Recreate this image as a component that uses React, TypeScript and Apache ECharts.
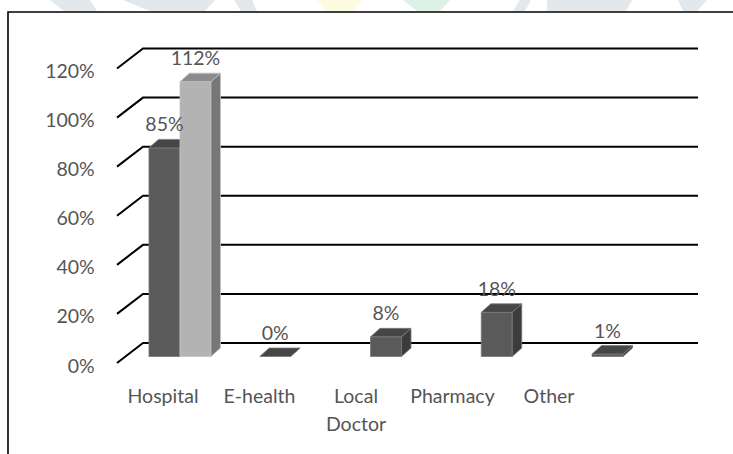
import React, { useEffect, useRef } from "react";
import * as echarts from "echarts";

const categories = ["Hospital", "E-health", "Local Doctor", "Pharmacy", "Other"];
const series1Values: (number | null)[] = [85, 0, 8, 18, 1];
const series2Values: (number | null)[] = [112, null, null, null, null];
const yTicks = [0, 20, 40, 60, 80, 100, 120];

const FONT = "Lato";
const TEXT_COLOR = "#555555";
const FONT_SIZE = 19.5;
const BAR_W = 31;

function barRenderer(side: number, colors: { front: string; top: string; side: string; edge: string }) {
  return (params: any, api: any) => {
    const idx = api.value(0);
    const val = api.value(1);
    const base = api.coord([idx, 0]);
    const topPt = api.coord([idx, val]);
    const cx = base[0];
    const y0 = base[1];
    const y1 = topPt[1];
    const w = BAR_W;
    const dx = 9.5;
    const dy = -8.5;
    const x0 = side < 0 ? cx - w : cx;
    const children: any[] = [];
    if (y0 - y1 > 0.5) {
      children.push({
        type: "rect",
        shape: { x: x0, y: y1, width: w, height: y0 - y1 },
        style: { fill: colors.front, stroke: colors.edge, lineWidth: 0.8 },
      });
      children.push({
        type: "polygon",
        shape: { points: [[x0 + w, y1], [x0 + w + dx, y1 + dy], [x0 + w + dx, y0 + dy], [x0 + w, y0]] },
        style: { fill: colors.side, stroke: colors.edge, lineWidth: 0.8 },
      });
    }
    children.push({
      type: "polygon",
      shape: { points: [[x0, y1], [x0 + w, y1], [x0 + w + dx, y1 + dy], [x0 + dx, y1 + dy]] },
      style: { fill: colors.top, stroke: colors.edge, lineWidth: 0.8 },
    });
    return { type: "group", children };
  };
}

function labelRenderer(side: number) {
  return (params: any, api: any) => {
    const idx = api.value(0);
    const val = api.value(1);
    const base = api.coord([idx, 0]);
    const topPt = api.coord([idx, val]);
    const x0 = side < 0 ? base[0] - BAR_W : base[0];
    return {
      type: "text",
      style: {
        text: val + "%",
        x: x0 + BAR_W / 2,
        y: topPt[1] - 24,
        align: "center",
        verticalAlign: "middle",
        fill: TEXT_COLOR,
        fontSize: FONT_SIZE,
        fontFamily: FONT,
      },
    };
  };
}

const toData = (arr: (number | null)[]) =>
  arr.map((v, i) => (v === null ? null : [i, v])).filter((d) => d !== null);

export default function App() {
  const ref = useRef<HTMLDivElement>(null);
  useEffect(() => {
    if (!ref.current) return;
    const chart = echarts.init(ref.current, null, { renderer: "svg" });
    const wm = "#e2e8eb";
    const option: any = {
      animation: false,
      backgroundColor: "#ffffff",
      graphic: [
        { type: "polygon", z: 0, shape: { points: [[50, 0], [90, 0], [97, 11], [64, 11]] }, style: { fill: wm } },
        { type: "polygon", z: 0, shape: { points: [[123, 0], [215, 0], [205, 11], [150, 11]] }, style: { fill: wm } },
        { type: "polygon", z: 0, shape: { points: [[234, 0], [252, 0], [257, 11], [241, 11]] }, style: { fill: wm } },
        { type: "polygon", z: 0, shape: { points: [[317, 0], [363, 0], [353, 11], [326, 11]] }, style: { fill: "#fdfbe2" } },
        { type: "polygon", z: 0, shape: { points: [[403, 0], [450, 0], [440, 11], [417, 11]] }, style: { fill: "#dcf2e6" } },
        { type: "polygon", z: 0, shape: { points: [[520, 0], [531, 0], [525, 11], [513, 11]] }, style: { fill: wm } },
        { type: "polygon", z: 0, shape: { points: [[547, 0], [632, 0], [626, 11], [547, 11]] }, style: { fill: wm } },
        { type: "polygon", z: 0, shape: { points: [[678, 0], [707, 0], [697, 11], [683, 11]] }, style: { fill: wm } },
        {
          type: "rect",
          z: 1,
          shape: { x: 8, y: 12, width: 800, height: 500 },
          style: { fill: null, stroke: "#000000", lineWidth: 1.6 },
        },
      ],
      grid: [
        { left: 124.6, right: 54.6, top: 62, bottom: 97.5 },
        { left: 114.75, right: 135.75, top: 70.5, bottom: 89 },
      ],
      xAxis: [
        { type: "category", data: categories, gridIndex: 0, show: false },
        {
          type: "category",
          data: categories,
          gridIndex: 1,
          axisLine: { show: false },
          axisTick: { show: false },
          splitLine: { show: false },
          axisLabel: {
            interval: 0,
            margin: 16,
            color: TEXT_COLOR,
            fontSize: FONT_SIZE,
            fontFamily: FONT,
            lineHeight: 28,
            formatter: (v: string) => v.replace(" ", "\n"),
          },
        },
      ],
      yAxis: [
        { type: "value", gridIndex: 0, min: 0, max: 120, interval: 20, show: false },
        {
          type: "value",
          gridIndex: 1,
          min: 0,
          max: 120,
          interval: 20,
          axisLine: { show: false },
          axisTick: { show: false },
          splitLine: { show: false },
          axisLabel: {
            margin: 20,
            color: TEXT_COLOR,
            fontSize: FONT_SIZE,
            fontFamily: FONT,
            formatter: "{value}%",
          },
        },
      ],
      series: [
        {
          type: "custom",
          name: "grid",
          xAxisIndex: 0,
          yAxisIndex: 0,
          z: 1,
          silent: true,
          data: yTicks.map((v) => [0, v]),
          renderItem: (params: any, api: any) => {
            const y = api.coord([0, api.value(1)])[1];
            return {
              type: "polyline",
              shape: { points: [[117, y + 6.5], [143, y - 13.5], [698, y - 13.5]] },
              style: { stroke: "#000000", lineWidth: 2, fill: null },
            };
          },
        },
        {
          type: "custom",
          name: "Series 1",
          xAxisIndex: 0,
          yAxisIndex: 0,
          z: 3,
          data: toData(series1Values),
          renderItem: barRenderer(-1, { front: "#5a5a5a", top: "#464646", side: "#3c3c3c", edge: "#7a7a7a" }),
        },
        {
          type: "custom",
          name: "Series 2",
          xAxisIndex: 0,
          yAxisIndex: 0,
          z: 3,
          data: toData(series2Values),
          renderItem: barRenderer(1, { front: "#b3b3b3", top: "#8c8c8c", side: "#777777", edge: "#c4c4c4" }),
        },
        {
          type: "custom",
          name: "Series 1 labels",
          xAxisIndex: 0,
          yAxisIndex: 0,
          z: 5,
          silent: true,
          data: toData(series1Values),
          renderItem: labelRenderer(-1),
        },
        {
          type: "custom",
          name: "Series 2 labels",
          xAxisIndex: 0,
          yAxisIndex: 0,
          z: 5,
          silent: true,
          data: toData(series2Values),
          renderItem: labelRenderer(1),
        },
      ],
    };
    chart.setOption(option);
    return () => chart.dispose();
  }, []);
  return (
    <div
      ref={ref}
      style={{ position: "fixed", left: 0, top: 0, width: 733, height: 454, background: "#fff" }}
    />
  );
}
